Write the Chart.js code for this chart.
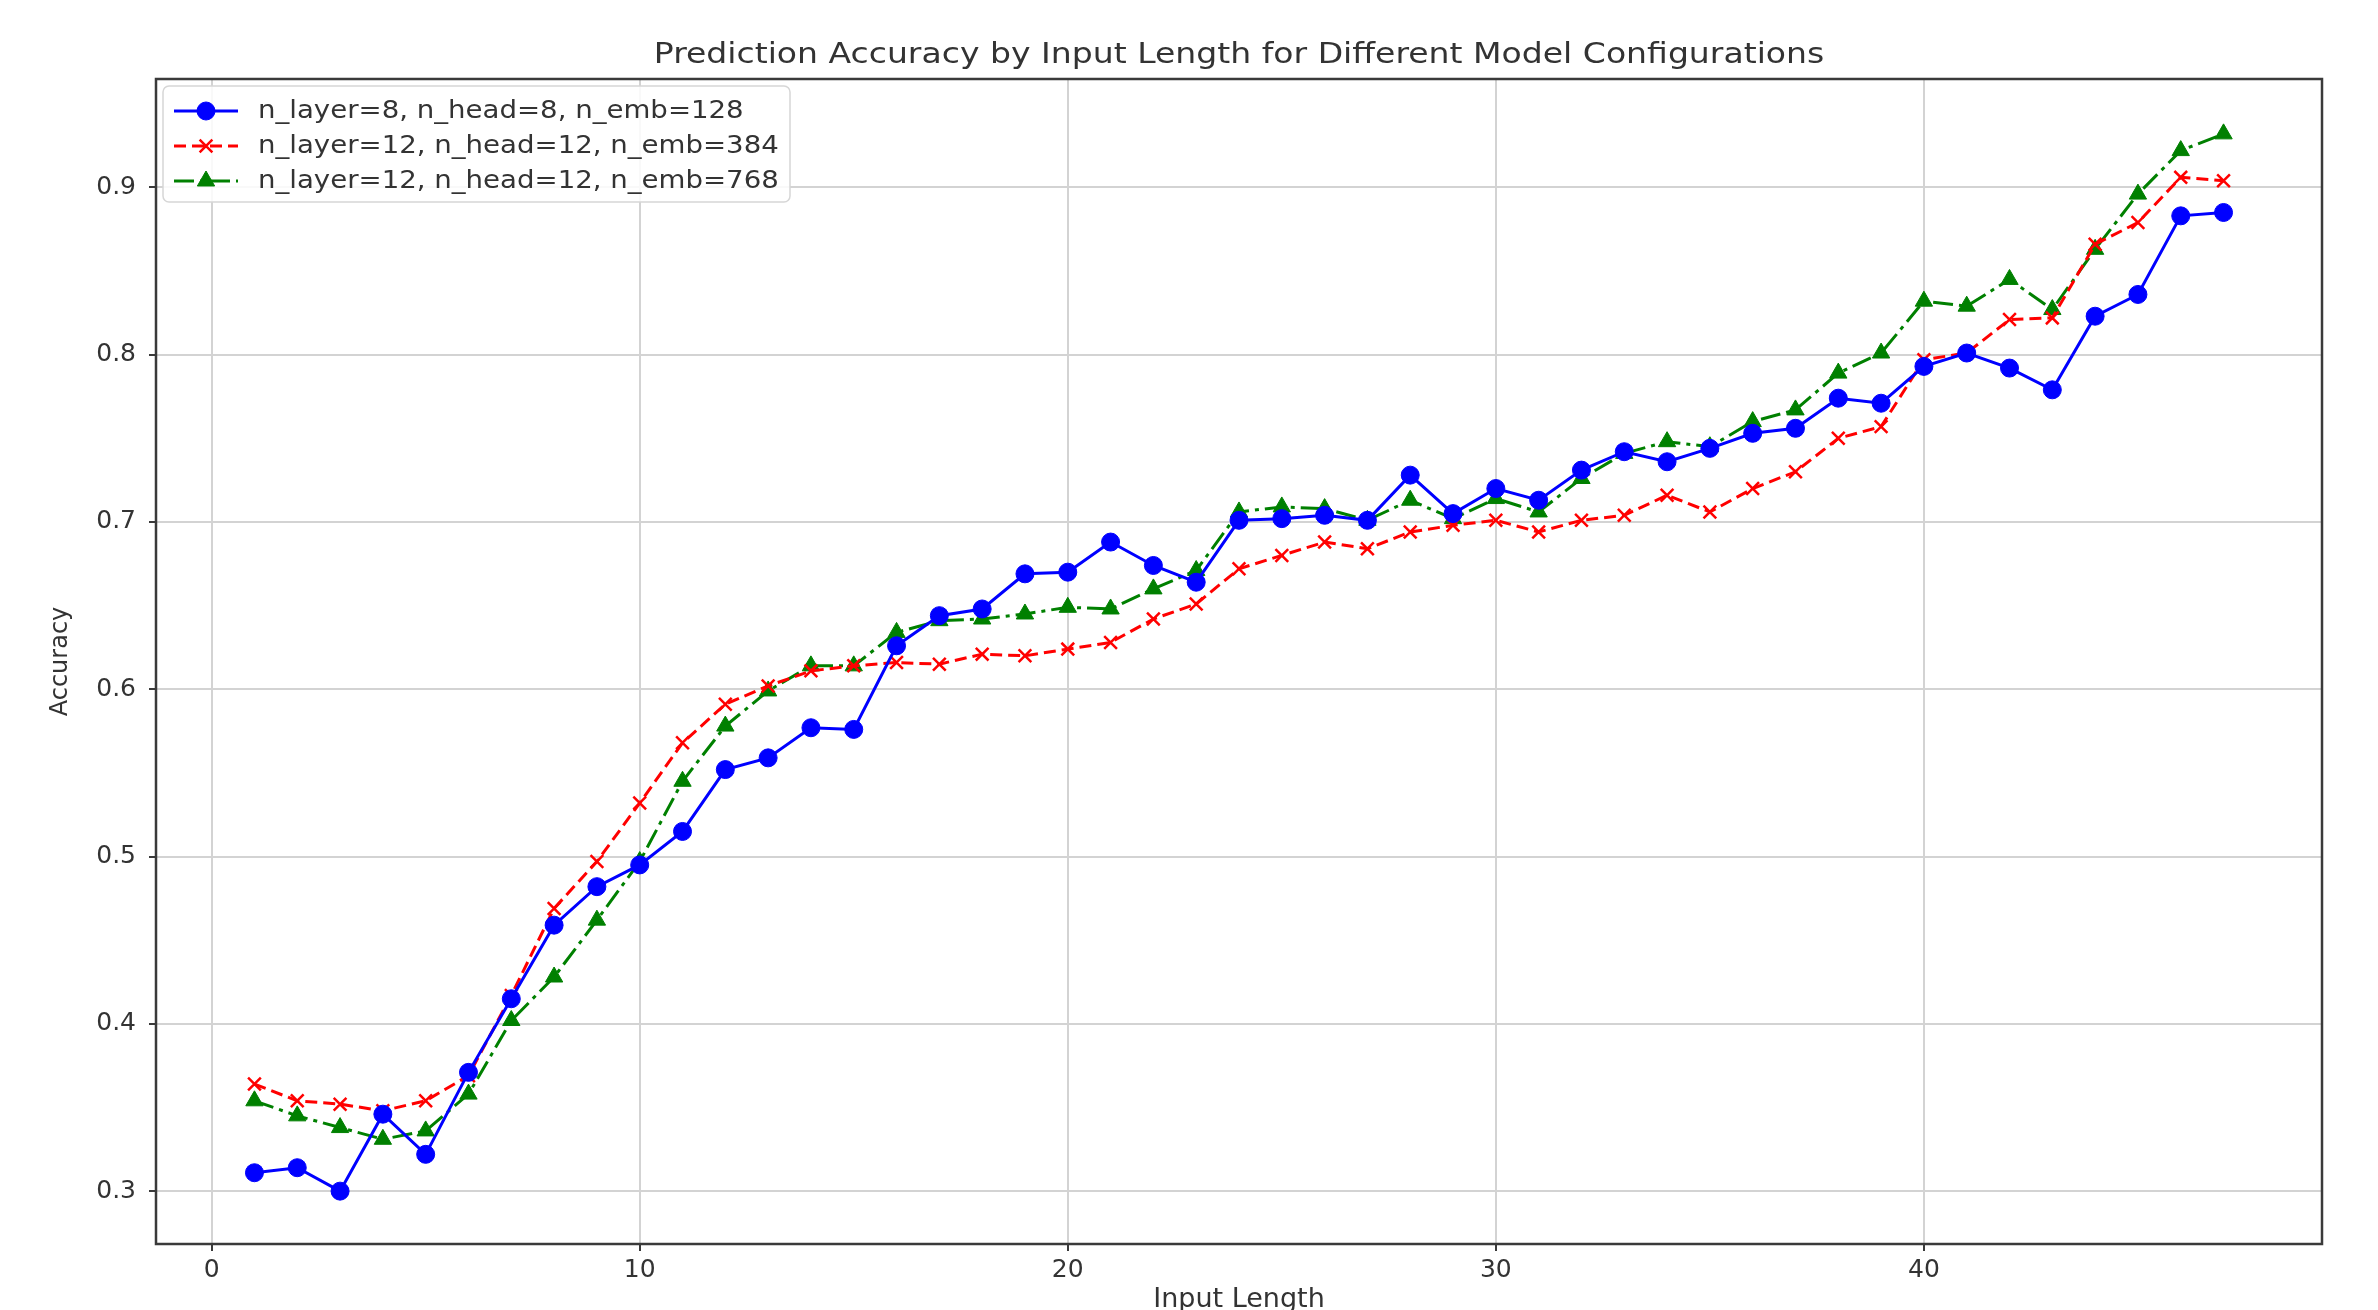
<!DOCTYPE html>
<html>
<head>
<meta charset="utf-8">
<script src="https://cdn.jsdelivr.net/npm/chart.js@4.4.1/dist/chart.umd.min.js"></script>
<style>
  html, body { margin: 0; padding: 0; background: #ffffff; }
  #wrap { width: 2378px; height: 1310px; }
</style>
</head>
<body>
<div id="wrap"><canvas id="c" width="2378" height="1310"></canvas></div>
<script>
const chartTitle = "Prediction Accuracy by Input Length for Different Model Configurations";
const xAxisTitle = "Input Length";
const yAxisTitle = "Accuracy";

const inputLengths = [1, 2, 3, 4, 5, 6, 7, 8, 9, 10, 11, 12, 13, 14, 15, 16, 17, 18, 19, 20, 21, 22, 23, 24, 25, 26, 27, 28, 29, 30, 31, 32, 33, 34, 35, 36, 37, 38, 39, 40, 41, 42, 43, 44, 45, 46, 47];

const seriesLabels = [
  "n_layer=8, n_head=8, n_emb=128",
  "n_layer=12, n_head=12, n_emb=384",
  "n_layer=12, n_head=12, n_emb=768"
];

const accL8E128 = [0.311, 0.314, 0.300, 0.346, 0.322, 0.371, 0.415, 0.459, 0.482, 0.495, 0.515, 0.552, 0.559, 0.577, 0.576, 0.626, 0.644, 0.648, 0.669, 0.670, 0.688, 0.674, 0.664, 0.701, 0.702, 0.704, 0.701, 0.728, 0.705, 0.720, 0.713, 0.731, 0.742, 0.736, 0.744, 0.753, 0.756, 0.774, 0.771, 0.793, 0.801, 0.792, 0.779, 0.823, 0.836, 0.883, 0.885];

const accL12E384 = [0.364, 0.354, 0.352, 0.348, 0.354, 0.369, 0.417, 0.469, 0.497, 0.532, 0.568, 0.591, 0.602, 0.611, 0.614, 0.616, 0.615, 0.621, 0.620, 0.624, 0.628, 0.642, 0.651, 0.672, 0.680, 0.688, 0.684, 0.694, 0.698, 0.701, 0.694, 0.701, 0.704, 0.716, 0.706, 0.720, 0.730, 0.750, 0.757, 0.797, 0.801, 0.821, 0.822, 0.866, 0.879, 0.906, 0.904];

const accL12E768 = [0.354, 0.345, 0.338, 0.331, 0.336, 0.358, 0.402, 0.428, 0.462, 0.497, 0.545, 0.578, 0.599, 0.614, 0.614, 0.634, 0.641, 0.642, 0.645, 0.649, 0.648, 0.660, 0.671, 0.706, 0.709, 0.708, 0.701, 0.713, 0.702, 0.714, 0.706, 0.726, 0.741, 0.748, 0.745, 0.760, 0.767, 0.789, 0.801, 0.832, 0.829, 0.845, 0.827, 0.863, 0.896, 0.922, 0.932];

const xTickValues = [0, 10, 20, 30, 40];
const yTickValues = [0.3, 0.4, 0.5, 0.6, 0.7, 0.8, 0.9];

function toPoints(xs, ys) { return xs.map((x, i) => ({ x: x, y: ys[i] })); }

const FONT = "'DejaVu Sans', sans-serif";
const TEXT = '#333333';

const frameTitleLegend = {
  id: 'frameTitleLegend',
  afterDatasetsDraw(chart) {
    const ctx = chart.ctx;
    const a = chart.chartArea;
    ctx.save();
    ctx.strokeStyle = '#3a3a3a';
    ctx.lineWidth = 2.5;
    ctx.strokeRect(a.left, a.top, a.right - a.left, a.bottom - a.top);
    ctx.restore();

    // title, centred over the plot area
    ctx.save();
    ctx.fillStyle = TEXT;
    ctx.font = '29px ' + FONT;
    ctx.textAlign = 'center';
    ctx.textBaseline = 'middle';
    ctx.translate((a.left + a.right) / 2, 55);
    ctx.scale(1.14, 1);
    ctx.fillText(chartTitle, 0, 0);
    ctx.restore();

    // legend
    const lx = 163, ly = 86, lw = 627, lh = 116;
    ctx.save();
    ctx.globalAlpha = 0.85;
    ctx.fillStyle = '#ffffff';
    ctx.beginPath();
    ctx.roundRect(lx, ly, lw, lh, 6);
    ctx.fill();
    ctx.globalAlpha = 1;
    ctx.strokeStyle = '#d6d6d6';
    ctx.lineWidth = 1.5;
    ctx.stroke();
    chart.data.datasets.forEach((ds, i) => {
      const y = 111 + 35 * i;
      ctx.save();
      ctx.strokeStyle = ds.borderColor;
      ctx.lineWidth = ds.borderWidth;
      ctx.setLineDash(ds.borderDash || []);
      ctx.beginPath();
      ctx.moveTo(174, y);
      ctx.lineTo(238, y);
      ctx.stroke();
      ctx.restore();
      ctx.save();
      ctx.fillStyle = ds.pointBackgroundColor;
      ctx.strokeStyle = ds.pointBorderColor;
      ctx.lineWidth = ds.pointBorderWidth;
      Chart.helpers.drawPoint(ctx, { pointStyle: ds.pointStyle, radius: ds.pointRadius, borderWidth: ds.pointBorderWidth }, 206, y);
      ctx.restore();
      ctx.save();
      ctx.fillStyle = TEXT;
      ctx.font = '24px ' + FONT;
      ctx.textBaseline = 'middle';
      ctx.textAlign = 'left';
      ctx.translate(258, y + 1);
      ctx.scale(1.15, 1);
      ctx.fillText(ds.label, 0, 0);
      ctx.restore();
    });
    ctx.restore();
  }
};

new Chart(document.getElementById('c'), {
  type: 'line',
  data: {
    datasets: [
      {
        label: seriesLabels[0],
        data: toPoints(inputLengths, accL8E128),
        borderColor: '#0000ff',
        backgroundColor: '#0000ff',
        borderWidth: 3,
        pointStyle: 'circle',
        pointRadius: 9,
        pointBackgroundColor: '#0000ff',
        pointBorderColor: '#0000ff',
        pointBorderWidth: 1,
        tension: 0
      },
      {
        label: seriesLabels[1],
        data: toPoints(inputLengths, accL12E384),
        borderColor: '#ff0000',
        backgroundColor: '#ff0000',
        borderWidth: 3,
        borderDash: [12, 6],
        pointStyle: 'crossRot',
        pointRadius: 9,
        pointBackgroundColor: '#ff0000',
        pointBorderColor: '#ff0000',
        pointBorderWidth: 2.5,
        tension: 0
      },
      {
        label: seriesLabels[2],
        data: toPoints(inputLengths, accL12E768),
        borderColor: '#008000',
        backgroundColor: '#008000',
        borderWidth: 3,
        borderDash: [20, 6, 4, 6],
        pointStyle: 'triangle',
        pointRadius: 10,
        pointBackgroundColor: '#008000',
        pointBorderColor: '#008000',
        pointBorderWidth: 1,
        tension: 0
      }
    ]
  },
  options: {
    responsive: false,
    animation: false,
    events: [],
    layout: { padding: { left: 0, right: 56, top: 79, bottom: 0 } },
    plugins: {
      legend: { display: false },
      tooltip: { enabled: false },
      title: { display: false }
    },
    scales: {
      x: {
        type: 'linear',
        min: -1.3,
        max: 49.3,
        afterFit(scale) { scale.height = 66; },
        afterBuildTicks(scale) { scale.ticks = xTickValues.map(v => ({ value: v })); },
        grid: { color: '#d3d3d3', lineWidth: 2, drawTicks: true, tickLength: 7, tickColor: '#3a3a3a', tickWidth: 2 },
        border: { display: false },
        ticks: { color: TEXT, font: { family: FONT, size: 25 }, padding: 4, maxRotation: 0, autoSkip: false, callback: v => String(v) },
        title: { display: true, text: xAxisTitle, color: TEXT, font: { family: FONT, size: 27, lineHeight: 0.75 }, padding: { top: 0, bottom: 0 } }
      },
      y: {
        type: 'linear',
        min: 0.2684,
        max: 0.9648,
        afterFit(scale) { scale.width = 156; },
        afterBuildTicks(scale) { scale.ticks = yTickValues.map(v => ({ value: v })); },
        grid: { color: '#d3d3d3', lineWidth: 2, drawTicks: true, tickLength: 7, tickColor: '#3a3a3a', tickWidth: 2 },
        border: { display: false },
        ticks: { color: TEXT, font: { family: FONT, size: 25 }, padding: 13, autoSkip: false, callback: v => Number(v).toFixed(1) },
        title: { display: true, text: yAxisTitle, color: TEXT, font: { family: FONT, size: 24, lineHeight: 1.2 }, padding: { top: 46, bottom: 0 } }
      }
    }
  },
  plugins: [frameTitleLegend]
});
</script>
</body>
</html>
